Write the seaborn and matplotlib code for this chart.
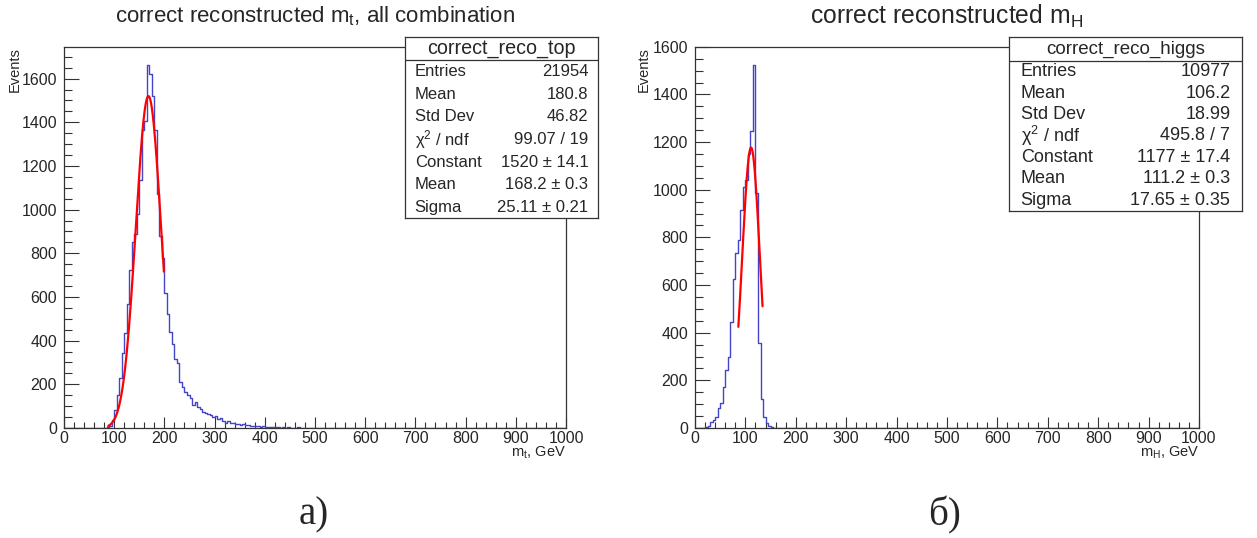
import numpy as np
import pandas as pd
import matplotlib
matplotlib.use("Agg")
import matplotlib.pyplot as plt
import seaborn as sns
from matplotlib.ticker import MultipleLocator

# ---------------- data ----------------
BIN_WIDTH = 5
X_RANGE = (0, 1000)

# correct_reco_top : 5 GeV bins starting at 85 GeV
top_first_bin = 85
top_counts = [
    3, 9, 37, 82, 150, 227, 344, 436, 570, 725,
    852, 890, 981, 1134, 1365, 1408, 1664, 1621, 1522, 1365,
    1070, 878, 780, 620, 520, 440, 385, 314, 297, 212,
    190, 165, 151, 136, 105, 120, 95, 87, 75, 70,
    64, 58, 49, 55, 40, 44, 34, 24, 34, 24,
    23, 20, 18, 16, 18, 13, 14, 11, 10, 9,
    8, 6, 7,
    # 400 .. 995
    5, 4, 5, 3, 4, 3, 2, 3, 2, 3,
    2, 1, 2, 3, 1, 2, 1, 1, 2, 1,
    1, 0, 1, 2, 1, 0, 1, 1, 0, 1,
    1, 2, 0, 1, 0, 1, 1, 0, 0, 1,
    2, 0, 1, 0, 0, 1, 0, 0, 1, 0,
    0, 1, 0, 0, 0, 0, 1, 0, 0, 0,
    1, 0, 0, 0, 0, 0, 0, 0, 0, 0,
    0, 0, 0, 0, 0, 0, 0, 0, 0, 0,
    0, 0, 0, 0, 0, 0, 0, 0, 0, 0,
    0, 0, 0, 0, 0, 0, 1, 0, 0, 0,
    0, 0, 0, 0, 0, 0, 0, 0, 1, 0,
    1, 0, 0, 0, 0, 0, 0, 0, 0, 0,
]

# correct_reco_higgs : 5 GeV bins starting at 20 GeV
higgs_first_bin = 20
higgs_counts = [
    5, 8, 27, 34, 48, 85, 106, 173, 243, 299,
    445, 627, 734, 787, 913, 1011, 1039, 1150, 1248, 1525,
    986, 357, 120, 48, 22, 8, 4, 2, 1,
]

# Gaussian fit parameters (from the stats boxes) and fit ranges
top_fit = {"constant": 1520, "mean": 168.2, "sigma": 25.11, "lo": 88, "hi": 199}
higgs_fit = {"constant": 1177, "mean": 111.2, "sigma": 17.65, "lo": 86, "hi": 134}

titles = ["correct reconstructed m$_\\mathregular{t}$, all combination",
          "correct reconstructed m$_\\mathregular{H}$"]
xlabels = ["m$_\\mathregular{t}$, GeV", "m$_\\mathregular{H}$, GeV"]
captions = ["а)", "б)"]

stat_names = ["correct_reco_top", "correct_reco_higgs"]
stat_labels = ["Entries", "Mean", "Std Dev", "χ$^\\mathregular{2}$ / ndf",
               "Constant", "Mean", "Sigma"]
top_stat_values = ["21954", "180.8", "46.82", "99.07 / 19",
                   "1520 ± 14.1", "168.2 ± 0.3", "25.11 ± 0.21"]
higgs_stat_values = ["10977", "106.2", "18.99", "495.8 / 7",
                     "1177 ± 17.4", "111.2 ± 0.3", "17.65 ± 0.35"]

# ---------------- style ----------------
sns.set_style("white")
plt.rcParams["font.family"] = ["Liberation Sans", "DejaVu Sans"]
plt.rcParams["mathtext.fontset"] = "custom"
plt.rcParams["mathtext.rm"] = "Liberation Sans"
plt.rcParams["mathtext.it"] = "Liberation Sans:italic"

HIST_COLOR = "#4444c8"
FIT_COLOR = "#ff0000"
FRAME_COLOR = "#333333"

W, H = 1257, 538
fig = plt.figure(figsize=(W / 100, H / 100), dpi=100)


def fx(px):
    return px / W


def fy(py):
    return 1 - py / H


def make_df(first_bin, counts):
    centers = first_bin + BIN_WIDTH * np.arange(len(counts)) + BIN_WIDTH / 2
    return pd.DataFrame({"m": centers, "n": np.asarray(counts, dtype=float)})


panels = [
    dict(df=make_df(top_first_bin, top_counts), fit=top_fit, x0=64, x1=566,
         title=titles[0], title_fs=16, xlabel=xlabels[0], cap=captions[0],
         cap_x=314, box=(405, 598, 37, 60, 218), name=stat_names[0],
         vals=top_stat_values, hdr_fs=14.2, row_fs=12, ev_x=15),
    dict(df=make_df(higgs_first_bin, higgs_counts), fit=higgs_fit, x0=695, x1=1199,
         title=titles[1], title_fs=17.8, xlabel=xlabels[1], cap=captions[1],
         cap_x=945, box=(1009, 1242, 37, 60.5, 210.5), name=stat_names[1],
         vals=higgs_stat_values, hdr_fs=13.5, row_fs=13, ev_x=644),
]

AX_TOP, AX_BOT = 46.5, 428
n_bins = int((X_RANGE[1] - X_RANGE[0]) / BIN_WIDTH)

for p in panels:
    ax = fig.add_axes([fx(p["x0"]), fy(AX_BOT), fx(p["x1"] - p["x0"]),
                       (AX_BOT - AX_TOP) / H])
    df = p["df"]
    sns.histplot(data=df, x="m", weights="n", bins=n_bins, binrange=X_RANGE,
                 element="step", fill=False, color=HIST_COLOR, linewidth=1.0,
                 ax=ax)
    f = p["fit"]
    xs = np.linspace(f["lo"], f["hi"], 300)
    ys = f["constant"] * np.exp(-0.5 * ((xs - f["mean"]) / f["sigma"]) ** 2)
    sns.lineplot(x=xs, y=ys, color=FIT_COLOR, linewidth=1.6, ax=ax)

    ax.set_xlim(*X_RANGE)
    ax.set_ylim(0, 1.05 * df["n"].max())
    ax.set_xlabel("")
    ax.set_ylabel("")
    ax.xaxis.set_major_locator(MultipleLocator(100))
    ax.xaxis.set_minor_locator(MultipleLocator(20))
    ax.yaxis.set_major_locator(MultipleLocator(200))
    ax.yaxis.set_minor_locator(MultipleLocator(50))
    ax.tick_params(axis="x", which="major", direction="in", length=7.9,
                   width=0.8, color=FRAME_COLOR, labelsize=11.5, pad=2.5,
                   bottom=True, top=False)
    ax.tick_params(axis="x", which="minor", direction="in", length=4.3,
                   width=0.8, color=FRAME_COLOR, bottom=True, top=False)
    ax.tick_params(axis="y", which="major", direction="in", length=10.8,
                   width=0.8, color=FRAME_COLOR, labelsize=11.5, pad=5,
                   left=True, right=False)
    ax.tick_params(axis="y", which="minor", direction="in", length=5.8,
                   width=0.8, color=FRAME_COLOR, left=True, right=False)
    for s in ax.spines.values():
        s.set_color(FRAME_COLOR)
        s.set_linewidth(0.9)

    # titles / labels
    fig.text(fx((p["x0"] + p["x1"]) / 2), fy(16), p["title"], ha="center",
             va="center", fontsize=p["title_fs"])
    fig.text(fx(p["x1"]), fy(453), p["xlabel"], ha="right", va="center",
             fontsize=10.5)
    fig.text(fx(p["ev_x"]), fy(47), "Events", rotation=90, ha="center",
             va="top", fontsize=10.5)
    fig.text(fx(p["cap_x"]), fy(515), p["cap"], ha="center",
             va="center", fontsize=28, family=["Liberation Serif", "DejaVu Serif"])

    # stats box (pixel coordinates inside the box axes)
    bx0, bx1, by0, bdiv, by1 = p["box"]
    bax = fig.add_axes([fx(bx0), fy(by1), fx(bx1 - bx0), (by1 - by0) / H])
    bax.set_xlim(bx0, bx1)
    bax.set_ylim(by1, by0)
    bax.set_xticks([])
    bax.set_yticks([])
    bax.set_facecolor("white")
    for s in bax.spines.values():
        s.set_color(FRAME_COLOR)
        s.set_linewidth(0.9)
    bax.axhline(bdiv, color=FRAME_COLOR, linewidth=0.9)
    bax.text((bx0 + bx1) / 2, (by0 + bdiv) / 2 + 0.5, p["name"], ha="center",
             va="center", fontsize=p["hdr_fs"])
    margin = 0.05 * (bx1 - bx0)
    row_h = (by1 - bdiv) / len(stat_labels)
    for i, (lab, val) in enumerate(zip(stat_labels, p["vals"])):
        yc = bdiv + (i + 0.5) * row_h + 0.5
        bax.text(bx0 + margin, yc, lab, ha="left", va="center", fontsize=p["row_fs"])
        bax.text(bx1 - margin, yc, val, ha="right", va="center", fontsize=p["row_fs"])

fig.savefig("out.png", dpi=100)
